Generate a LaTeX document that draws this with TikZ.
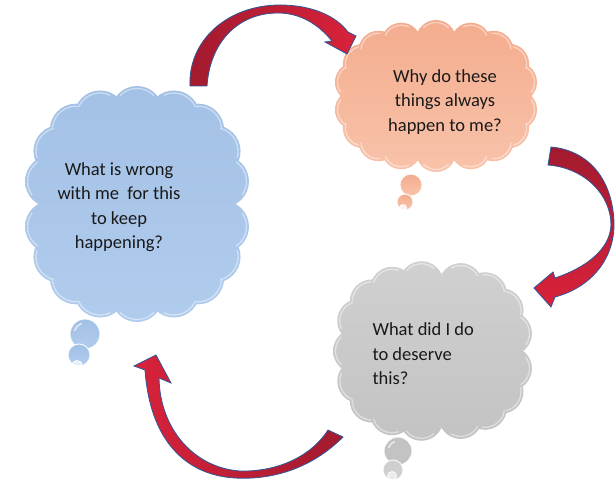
\documentclass[tikz,border=0pt]{standalone}
\usepackage{fontspec}
\setmainfont{Carlito}

\definecolor{skyTop}{HTML}{A3C1E6}
\definecolor{skyBot}{HTML}{B0CCED}
\definecolor{peachTop}{HTML}{F4AC8E}
\definecolor{peachBot}{HTML}{F8C3AA}
\definecolor{ashTop}{HTML}{D0D0D0}
\definecolor{ashBot}{HTML}{C3C3C3}
\definecolor{crimDark}{HTML}{A21A2E}
\definecolor{crimLight}{HTML}{D9223B}
\definecolor{rimBlue}{HTML}{2F5597}

\tikzset{
  bubble/.style={circle, inner sep=0pt, draw=white, draw opacity=0.85, line width=1pt},
  gleam/.style={white, opacity=0.7, line width=1.4pt, line cap=round},
  puffrim/.style={white, opacity=0.45, line width=1.3pt, line cap=round},
  saying/.style={font=\fontsize{18.5}{24.5}\selectfont, text=black!90},
  blockarrow/.style={draw=rimBlue, line width=0.8pt, line join=miter}
}

% A puffy cloud: puffs placed on a rounded superellipse.
% #1 cx, #2 cy, #3 half width, #4 half height, #5 puff radius,
% #6 number of puffs, #7 angle offset, #8 fill options, #9 centre name
\newcommand{\puffcloud}[9]{%
  \pgfmathsetmacro{\pcA}{#3-#5}%
  \pgfmathsetmacro{\pcB}{#4-#5}%
  \pgfmathsetmacro{\pcStep}{360/#6}%
  \coordinate (#9) at (#1,#2);
  \path[#8] (#9) ellipse[x radius=\pcA, y radius=\pcB]
    \foreach \k in {1,...,#6}{
      ({#1+\pcA*cos(\k*\pcStep+#7)*pow(abs(cos(\k*\pcStep+#7)),-0.2)},
       {#2+\pcB*sin(\k*\pcStep+#7)*pow(abs(sin(\k*\pcStep+#7)),-0.2)})
      circle[radius=#5]
    };
  \foreach \k in {1,...,#6}{
    \pgfmathsetmacro{\pcT}{\k*\pcStep+#7}
    \pgfmathsetmacro{\pcX}{#1+\pcA*cos(\pcT)*pow(abs(cos(\pcT)),-0.2)}
    \pgfmathsetmacro{\pcY}{#2+\pcB*sin(\pcT)*pow(abs(sin(\pcT)),-0.2)}
    \draw[puffrim] ({\pcX+(#5-2.5)*cos(\pcT-45)},{\pcY+(#5-2.5)*sin(\pcT-45)})
      arc[start angle=\pcT-45, end angle=\pcT+45, radius=#5-2.5];
  }
}

\begin{document}
\begin{tikzpicture}[x=1pt,y=-1pt]
\useasboundingbox (0,0) rectangle (615,486);

% ---- thought bubble tails ----
\node[bubble, minimum size=30pt, top color=skyTop, bottom color=skyBot] (bt1) at (85,334) {};
\node[bubble, minimum size=22pt, top color=skyTop, bottom color=skyBot] (bt2) at (79,355) {};
\node[bubble, minimum size=11pt, fill=white, fill opacity=0.7] (bt3) at (77,366) {};
\draw[gleam] (bt1.center) ++(200:11) arc[start angle=200, end angle=250, radius=11];

\node[bubble, minimum size=22pt, top color=peachTop, bottom color=peachBot] (ot1) at (411,185) {};
\node[bubble, minimum size=16pt, top color=peachTop, bottom color=peachBot] (ot2) at (405,202) {};
\node[bubble, minimum size=7pt, fill=white, fill opacity=0.8] (ot3) at (403,208) {};

\node[bubble, minimum size=28pt, fill=ashBot] (gt1) at (398,451) {};
\node[bubble, minimum size=20pt, fill=ashBot!80!white] (gt2) at (393,470) {};
\node[bubble, minimum size=9pt, fill=white, fill opacity=0.6] (gt3) at (392,476) {};
\draw[gleam] (gt1.center) ++(200:10) arc[start angle=200, end angle=250, radius=10];

% ---- clouds ----
\puffcloud{137}{204}{113}{118}{26}{18}{10}{top color=skyTop, bottom color=skyBot}{blue}
\puffcloud{436}{96}{102}{76}{20}{18}{10}{top color=peachTop, bottom color=peachBot}{orange}
\puffcloud{433}{351}{100}{90}{22}{17}{10.6}{top color=ashTop, bottom color=ashBot}{gray}

% ---- texts ----
\node[saying, align=center] (bluetext) at (119,207)
  {What is wrong\\with me~ for this\\to keep\\happening?};
\node[saying, align=center] (orangetext) at (445,102)
  {Why do these\\things always\\happen to me?};
\node[saying, align=left, anchor=west] (graytext) at (369,354)
  {What did I do\\to deserve\\this?};

% ---- curved block arrows ----
% top: blue -> orange
\path[blockarrow, left color=crimDark, right color=crimLight]
  (190,86) .. controls (188,40) and (228,5) .. (280,5)
  .. controls (312,5) and (336,16) .. (348,32)
  -- (356,36) -- (347,54) -- (325,42) -- (332,41)
  .. controls (318,24) and (300,13) .. (278,13)
  .. controls (238,13) and (210,42) .. (207,86) -- cycle;

% right: orange -> gray
\path[blockarrow, top color=crimDark, bottom color=crimLight]
  (551,147) .. controls (585,150) and (612,175) .. (614,222)
  .. controls (615,258) and (592,287) .. (555,297)
  -- (551,307) -- (534,288) -- (553,272) -- (555,278)
  .. controls (585,268) and (610,250) .. (611,225)
  .. controls (611,195) and (585,168) .. (548,165) -- cycle;

% bottom: gray -> blue
\path[blockarrow, right color=crimDark, left color=crimLight]
  (343,437) .. controls (310,470) and (270,480) .. (235,478)
  .. controls (185,475) and (150,440) .. (145,370)
  -- (134,366) -- (156,355) -- (171,383) -- (159,378)
  .. controls (160,430) and (195,468) .. (240,471)
  .. controls (275,472) and (310,458) .. (328,430) -- cycle;

\end{tikzpicture}
\end{document}
